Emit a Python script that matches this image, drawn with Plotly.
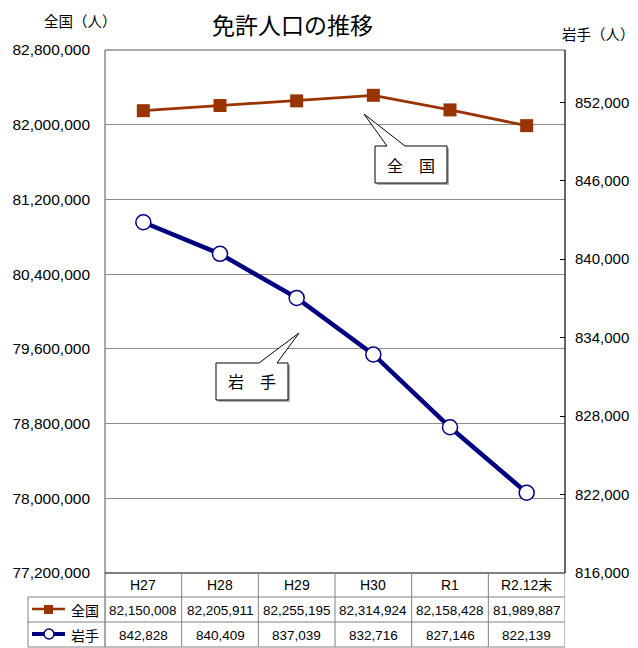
import plotly.graph_objects as go

categories = ["H27", "H28", "H29", "H30", "R1", "R2.12末"]
zenkoku = [82150008, 82205911, 82255195, 82314924, 82158428, 81989887]
iwate = [842828, 840409, 837039, 832716, 827146, 822139]
left_ticks = [77200000, 78000000, 78800000, 79600000, 80400000, 81200000, 82000000, 82800000]
right_ticks = [816000, 822000, 828000, 834000, 840000, 846000, 852000]

OFF = 8  # default page body margin
W, H = 638 - OFF, 648 - OFF
L, R, T, B = 105, 565, 50, 573
PW, PH = R - L, B - T

def px(x):
    return (x - L) / PW

def py(y):
    return (B - y) / PH

BROWN = "#993300"
NAVY = "#000080"
GRID = "#8c8c8c"
FONT = "Liberation Sans, Noto Sans CJK JP, sans-serif"
JFONT = "Noto Sans CJK JP, sans-serif"

fig = go.Figure()
fig.add_trace(go.Scatter(
    x=categories, y=zenkoku, mode="lines+markers", name="全国",
    line=dict(color=BROWN, width=2.8),
    marker=dict(symbol="square", size=13, color=BROWN),
    yaxis="y"))
fig.add_trace(go.Scatter(
    x=categories, y=iwate, mode="lines+markers", name="岩手",
    line=dict(color=NAVY, width=4.5),
    marker=dict(symbol="circle", size=15, color="white", line=dict(color=NAVY, width=1.5)),
    yaxis="y2"))

shapes = []
annotations = []

def ann(x, y, text, size, family, xref="paper"):
    annotations.append(dict(x=x, y=y, xref=xref, yref="paper", text=text, showarrow=False,
                            xanchor="center", yanchor="middle",
                            font=dict(size=size, family=family, color="black")))

# plot border lines
shapes.append(dict(type="line", xref="paper", yref="paper", x0=0, x1=1, y0=1, y1=1,
                   line=dict(color=GRID, width=1.5)))
shapes.append(dict(type="line", xref="paper", yref="paper", x0=0, x1=0, y0=1, y1=py(647),
                   line=dict(color=GRID, width=1.5)))
shapes.append(dict(type="line", xref="paper", yref="paper", x0=1, x1=1, y0=1, y1=0,
                   line=dict(color="black", width=1.2)))

# data table
tcol = "#808080"
shapes.append(dict(type="line", xref="paper", yref="paper", x0=0, x1=1, y0=0, y1=0,
                   line=dict(color="black", width=1.2)))
for yy in [597, 622, 647]:
    shapes.append(dict(type="line", xref="paper", yref="paper", x0=px(28), x1=1, y0=py(yy), y1=py(yy),
                       line=dict(color=tcol, width=1)))
shapes.append(dict(type="line", xref="paper", yref="paper", x0=px(28), x1=px(28), y0=py(597), y1=py(647),
                   line=dict(color=tcol, width=1)))
for k in range(1, 7):
    shapes.append(dict(type="line", xref="x", yref="paper", x0=-0.5 + k, x1=-0.5 + k, y0=0, y1=py(647),
                       line=dict(color=tcol, width=1)))

for i, c in enumerate(categories):
    ann(c, py(585), c, 14, FONT, xref="x")
    ann(c, py(610), f"{zenkoku[i]:,}", 13.5, FONT, xref="x")
    ann(c, py(635), f"{iwate[i]:,}", 13.5, FONT, xref="x")

# legend keys in table
shapes.append(dict(type="line", xref="paper", yref="paper", x0=px(32), x1=px(65), y0=py(609), y1=py(609),
                   line=dict(color=BROWN, width=2.5)))
shapes.append(dict(type="rect", xref="paper", yref="paper", x0=px(44), x1=px(53), y0=py(605), y1=py(614),
                   fillcolor=BROWN, line=dict(color=BROWN, width=0)))
shapes.append(dict(type="line", xref="paper", yref="paper", x0=px(32), x1=px(65), y0=py(634), y1=py(634),
                   line=dict(color=NAVY, width=4)))
shapes.append(dict(type="circle", xref="paper", yref="paper", x0=px(44), x1=px(54), y0=py(629), y1=py(639),
                   fillcolor="white", line=dict(color=NAVY, width=1.5)))
ann(px(85), py(610), "全国", 14, JFONT)
ann(px(85), py(635), "岩手", 14, JFONT)

# callouts
def callout(x0, y0, x1, y1, b0, b1, tx, ty):
    path = (f"M {px(x0)},{py(y0)} L {px(b0)},{py(y0)} L {px(tx)},{py(ty)} L {px(b1)},{py(y0)} "
            f"L {px(x1)},{py(y0)} L {px(x1)},{py(y1)} L {px(x0)},{py(y1)} Z")
    spath = (f"M {px(x0+2)},{py(y0+2)} L {px(x1+2)},{py(y0+2)} L {px(x1+2)},{py(y1+2)} "
             f"L {px(x0+2)},{py(y1+2)} Z")
    shapes.append(dict(type="path", xref="paper", yref="paper", path=spath,
                       fillcolor="#b0b0b0", line=dict(width=0)))
    shapes.append(dict(type="path", xref="paper", yref="paper", path=path,
                       fillcolor="white", line=dict(color="black", width=1)))

callout(375, 146, 447, 183, 387, 405, 364, 114)
callout(216, 363, 288, 400, 259, 277, 299, 333)
ann(px(411), py(165), "全　国", 16, JFONT)
ann(px(252), py(381), "岩　手", 16, JFONT)

# titles
ann(px(292), py(24), "免許人口の推移", 23, JFONT)
ann(px(80), py(20), "全国（人）", 14.5, JFONT)
ann(px(598), py(33), "岩手（人）", 14.5, JFONT)

fig.update_layout(
    width=W, height=H,
    margin=dict(l=L - OFF, r=(W + OFF) - R, t=T - OFF, b=(H + OFF) - B, pad=0),
    paper_bgcolor="white", plot_bgcolor="white",
    showlegend=False,
    xaxis=dict(type="category", range=[-0.5, 5.5], showticklabels=False, showgrid=False,
               zeroline=False, showline=False, ticks="", automargin=False),
    yaxis=dict(range=[77200000, 82800000], tickvals=left_ticks, tickformat=",",
               showgrid=True, gridcolor=GRID, gridwidth=1, zeroline=False, showline=False,
               ticks="", ticklabelstandoff=14, automargin=False,
               tickfont=dict(size=15.5, family=FONT, color="black")),
    yaxis2=dict(range=[816000, 856000], tickvals=right_ticks, tickformat=",",
                overlaying="y", side="right", showgrid=False, zeroline=False, showline=False,
                ticks="inside", ticklen=5, tickcolor="black", ticklabelstandoff=9,
                automargin=False,
                tickfont=dict(size=15, family=FONT, color="black")),
    shapes=shapes, annotations=annotations,
)

fig.write_html("out.html")
